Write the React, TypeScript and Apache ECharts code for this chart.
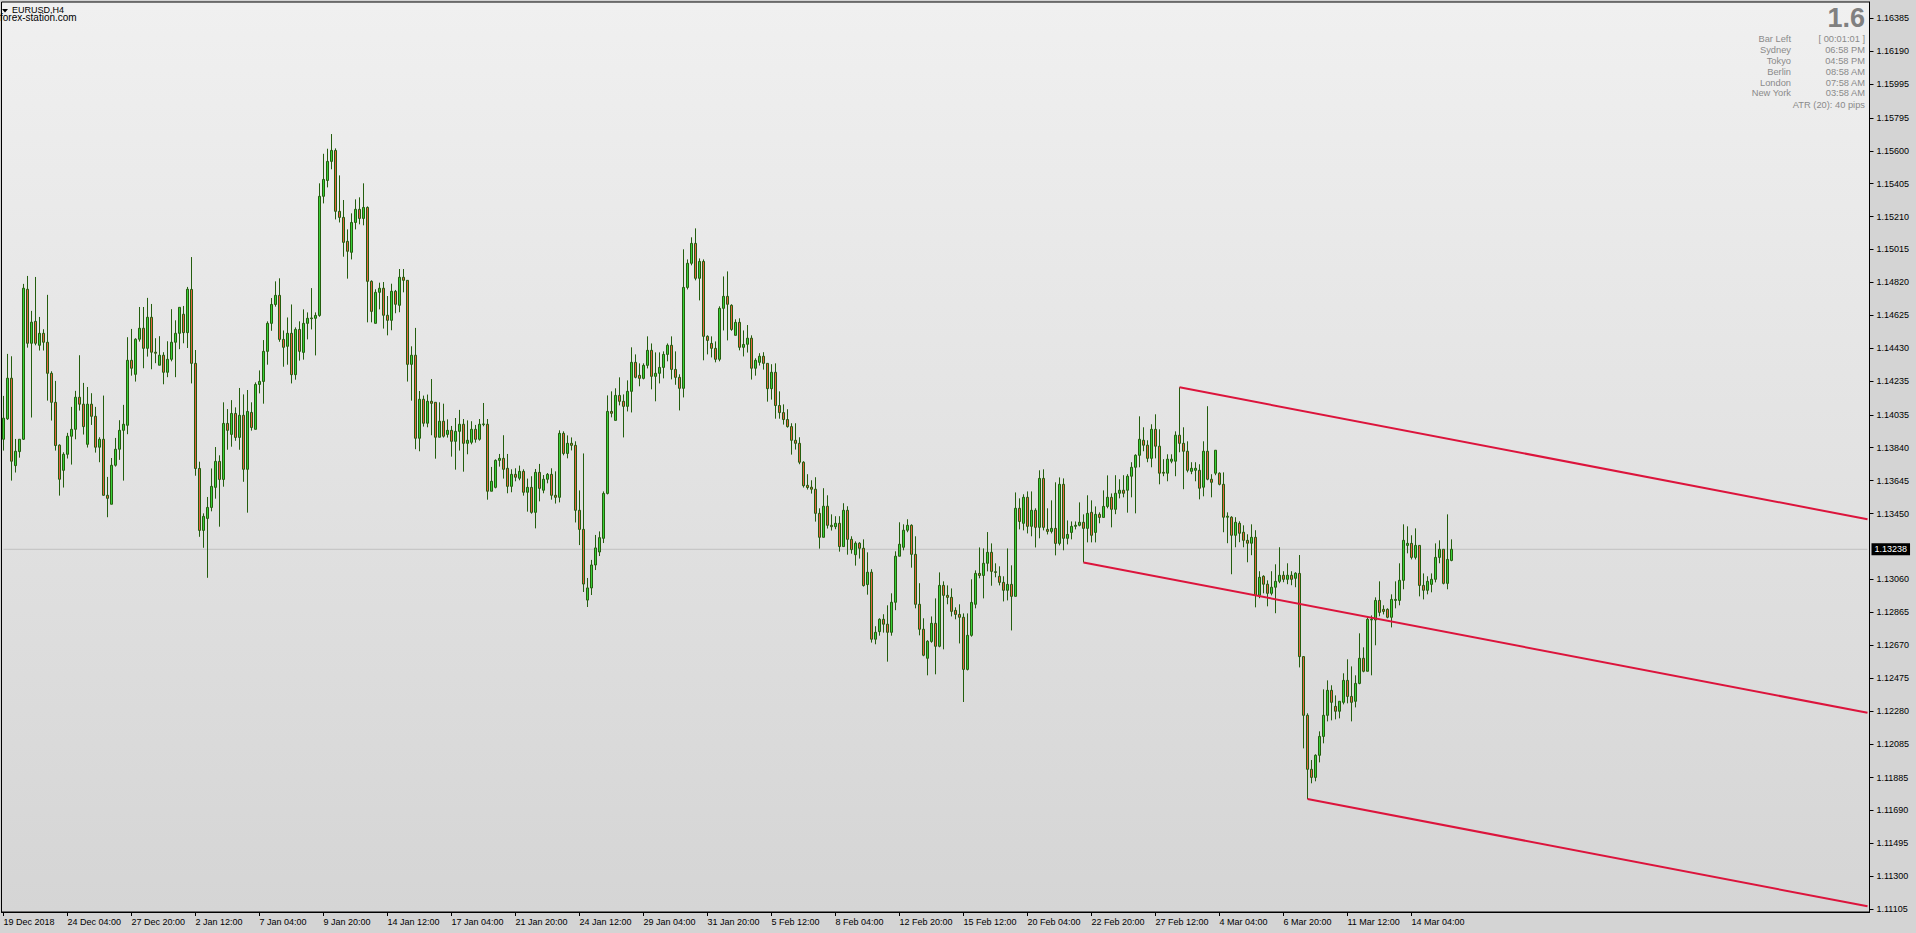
import React, { useEffect, useRef } from "react";
import * as echarts from "echarts";

// ---- x axis tick labels (one every 16 four-hour bars) ----
const xTickLabels = [
  "19 Dec 2018", "24 Dec 04:00", "27 Dec 20:00", "2 Jan 12:00", "7 Jan 04:00", "9 Jan 20:00",
  "14 Jan 12:00", "17 Jan 04:00", "21 Jan 20:00", "24 Jan 12:00", "29 Jan 04:00", "31 Jan 20:00",
  "5 Feb 12:00", "8 Feb 04:00", "12 Feb 20:00", "15 Feb 12:00", "20 Feb 04:00", "22 Feb 20:00",
  "27 Feb 12:00", "4 Mar 04:00", "6 Mar 20:00", "11 Mar 12:00", "14 Mar 04:00",
];
const BARS_PER_LABEL = 16;
const TOTAL_SLOTS = 467; // bars + empty space on the right

// ---- price axis tick labels ----
const priceTicks = [
  1.16385, 1.1619, 1.15995, 1.15795, 1.156, 1.15405, 1.1521, 1.15015, 1.1482, 1.14625, 1.1443,
  1.14235, 1.14035, 1.1384, 1.13645, 1.1345, 1.1306, 1.12865, 1.1267, 1.12475, 1.1228, 1.12085,
  1.11885, 1.1169, 1.11495, 1.113, 1.11105,
];
const yMin = 1.110883;
const yMax = 1.164816;

// ---- EURUSD H4 candles ----
const open = [
1.13890,1.14011,1.14252,1.13734,1.13817,1.13890,1.14779,1.14459,1.14589,1.14447,
1.14518,1.14465,1.14281,1.14109,1.13855,1.13706,1.13801,1.13908,1.13949,1.14139,
1.14098,1.13860,1.14098,1.14026,1.13843,1.13890,1.13558,1.13505,1.13736,1.13831,
1.13943,1.13973,1.14358,1.14275,1.14483,1.14548,1.14429,1.14613,1.14406,1.14329,
1.14388,1.14287,1.14364,1.14465,1.14518,1.14631,1.14522,1.14778,1.14340,1.13717,
1.13350,1.13421,1.13486,1.13605,1.13759,1.13652,1.13984,1.13919,1.14043,1.13901,
1.14032,1.13712,1.14049,1.13949,1.14215,1.14233,1.14411,1.14577,1.14689,1.14743,
1.14482,1.14441,1.14518,1.14273,1.14541,1.14405,1.14577,1.14605,1.14607,1.14624,
1.15330,1.15424,1.15537,1.15602,1.15241,1.15205,1.15063,1.14998,1.15175,1.15253,
1.15199,1.15264,1.14826,1.14577,1.14761,1.14785,1.14625,1.14595,1.14767,1.14684,
1.14850,1.14832,1.14334,1.14388,1.13896,1.14127,1.13985,1.14115,1.14109,1.13902,
1.13997,1.13919,1.13943,1.13878,1.13937,1.13979,1.13866,1.13872,1.13949,1.13890,
1.13977,1.13979,1.13582,1.13605,1.13765,1.13777,1.13718,1.13611,1.13682,1.13659,
1.13700,1.13576,1.13605,1.13457,1.13694,1.13588,1.13653,1.13682,1.13558,1.13546,
1.13925,1.13806,1.13866,1.13854,1.13469,1.13356,1.12937,1.13009,1.13145,1.13222,
1.13303,1.13569,1.14055,1.14002,1.14150,1.14115,1.14085,1.14174,1.14346,1.14269,
1.14251,1.14328,1.14417,1.14263,1.14281,1.14316,1.14393,1.14447,1.14304,1.14257,
1.14192,1.14790,1.14933,1.15051,1.14844,1.14944,1.14500,1.14458,1.14429,1.14364,
1.14666,1.14737,1.14684,1.14506,1.14583,1.14435,1.14453,1.14489,1.14311,1.14346,
1.14382,1.14340,1.14190,1.14287,1.14090,1.14048,1.14007,1.13965,1.13884,1.13866,
1.13754,1.13617,1.13606,1.13594,1.13451,1.13309,1.13493,1.13380,1.13372,1.13392,
1.13254,1.13469,1.13297,1.13206,1.13274,1.13244,1.13029,1.13102,1.12705,1.12750,
1.12823,1.12794,1.12746,1.12924,1.13197,1.13250,1.13351,1.13380,1.13208,1.12912,
1.12764,1.12592,1.12692,1.12799,1.12663,1.13024,1.12965,1.12953,1.12876,1.12852,
1.12835,1.12526,1.12728,1.12912,1.13095,1.13083,1.13155,1.13220,1.13105,1.13078,
1.13042,1.12995,1.13030,1.12959,1.13481,1.13392,1.13546,1.13374,1.13469,1.13368,
1.13658,1.13356,1.13344,1.13362,1.13273,1.13623,1.13303,1.13338,1.13374,1.13380,
1.13398,1.13362,1.13457,1.13338,1.13445,1.13427,1.13492,1.13546,1.13475,1.13570,
1.13588,1.13588,1.13671,1.13724,1.13795,1.13884,1.13855,1.13777,1.13949,1.13849,
1.13694,1.13689,1.13760,1.13760,1.13914,1.13866,1.13819,1.13700,1.13706,1.13706,
1.13606,1.13819,1.13653,1.13689,1.13689,1.13623,1.13428,1.13428,1.13321,1.13392,
1.13339,1.13291,1.13274,1.13309,1.12965,1.13078,1.13031,1.12977,1.13013,1.13048,
1.13084,1.13060,1.13084,1.13066,1.13095,1.12602,1.12254,1.11934,1.11886,1.12017,
1.12129,1.12254,1.12402,1.12307,1.12278,1.12331,1.12461,1.12366,1.12337,1.12443,
1.12592,1.12515,1.12819,1.12819,1.12935,1.12882,1.12882,1.12835,1.12935,1.12935,
1.13054,1.13261,1.13273,1.13190,1.13261,1.13024,1.12995,1.13030,1.13060,1.13190,
1.13238,1.13036,1.13172,
];
const high = [
1.14147,1.14396,1.14382,1.13892,1.13890,1.14811,1.14858,1.14651,1.14852,1.14615,
1.14542,1.14746,1.14293,1.14236,1.13860,1.13813,1.13928,1.14082,1.14177,1.14388,
1.14224,1.14200,1.14163,1.14082,1.13902,1.14149,1.13667,1.13779,1.13898,1.14003,
1.14094,1.14495,1.14544,1.14489,1.14674,1.14674,1.14728,1.14692,1.14489,1.14501,
1.14406,1.14471,1.14661,1.14595,1.14672,1.14680,1.14793,1.14970,1.14419,1.13757,
1.13451,1.13548,1.13717,1.13844,1.13795,1.14109,1.14069,1.14122,1.14079,1.14194,
1.14156,1.14182,1.14109,1.14227,1.14298,1.14478,1.14589,1.14727,1.14826,1.14844,
1.14535,1.14612,1.14689,1.14553,1.14589,1.14660,1.14642,1.14786,1.14642,1.15407,
1.15582,1.15612,1.15699,1.15614,1.15454,1.15308,1.15134,1.15229,1.15312,1.15324,
1.15407,1.15270,1.14832,1.14779,1.14818,1.14822,1.14739,1.14812,1.14775,1.14899,
1.14899,1.14832,1.14441,1.14550,1.14176,1.14149,1.14155,1.14247,1.14109,1.14109,
1.14101,1.14008,1.13969,1.14016,1.14064,1.14010,1.14002,1.13997,1.13975,1.14010,
1.14105,1.14010,1.13726,1.13771,1.13803,1.13914,1.13803,1.13712,1.13718,1.13734,
1.13712,1.13657,1.13671,1.13714,1.13744,1.13678,1.13690,1.13718,1.13700,1.13943,
1.13937,1.13913,1.13901,1.13878,1.13587,1.13806,1.13068,1.13175,1.13323,1.13344,
1.13581,1.14150,1.14174,1.14192,1.14257,1.14156,1.14239,1.14435,1.14393,1.14340,
1.14340,1.14500,1.14458,1.14405,1.14405,1.14411,1.14458,1.14500,1.14411,1.14275,
1.15016,1.14956,1.15087,1.15140,1.14962,1.14956,1.14506,1.14500,1.14470,1.14678,
1.14855,1.14885,1.14690,1.14601,1.14607,1.14535,1.14567,1.14506,1.14370,1.14400,
1.14406,1.14340,1.14335,1.14340,1.14174,1.14097,1.14068,1.13985,1.13985,1.13902,
1.13760,1.13683,1.13647,1.13665,1.13481,1.13600,1.13558,1.13445,1.13434,1.13434,
1.13511,1.13493,1.13315,1.13285,1.13280,1.13297,1.13220,1.13120,1.12782,1.12829,
1.12853,1.12906,1.12977,1.13226,1.13398,1.13386,1.13416,1.13386,1.13315,1.13037,
1.12829,1.12699,1.12840,1.12947,1.13101,1.13048,1.13024,1.13006,1.12894,1.12912,
1.12858,1.12858,1.13060,1.13113,1.13249,1.13243,1.13340,1.13273,1.13155,1.13137,
1.13078,1.13243,1.13143,1.13575,1.13540,1.13564,1.13581,1.13581,1.13481,1.13706,
1.13712,1.13481,1.13528,1.13635,1.13664,1.13658,1.13409,1.13403,1.13403,1.13516,
1.13445,1.13558,1.13528,1.13492,1.13457,1.13587,1.13676,1.13569,1.13677,1.13653,
1.13677,1.13683,1.13754,1.13801,1.14026,1.13961,1.13884,1.13979,1.14038,1.13949,
1.13772,1.13801,1.13801,1.13937,1.14198,1.13961,1.13878,1.13754,1.13754,1.13742,
1.13878,1.14086,1.13683,1.13825,1.13694,1.13694,1.13457,1.13434,1.13428,1.13404,
1.13380,1.13327,1.13386,1.13351,1.13108,1.13084,1.13054,1.13108,1.13149,1.13250,
1.13108,1.13155,1.13108,1.13102,1.13204,1.12602,1.12266,1.11989,1.12023,1.12159,
1.12408,1.12461,1.12432,1.12372,1.12337,1.12503,1.12586,1.12544,1.12491,1.12740,
1.12657,1.12835,1.12846,1.12953,1.13048,1.12906,1.12888,1.12971,1.13048,1.13155,
1.13386,1.13374,1.13321,1.13362,1.13261,1.13095,1.13078,1.13095,1.13273,1.13291,
1.13238,1.13445,1.13297,
];
const low = [
1.13823,1.14005,1.13645,1.13693,1.13781,1.13886,1.14433,1.14019,1.14447,1.14416,
1.14416,1.14119,1.14001,1.13823,1.13556,1.13604,1.13776,1.13740,1.13890,1.14060,
1.13918,1.13841,1.13975,1.13811,1.13754,1.13556,1.13428,1.13505,1.13728,1.13768,
1.13645,1.13920,1.14267,1.14232,1.14469,1.14311,1.14380,1.14305,1.14341,1.14329,
1.14216,1.14258,1.14352,1.14258,1.14424,1.14459,1.14431,1.14221,1.13674,1.13312,
1.13247,1.13069,1.13463,1.13538,1.13372,1.13609,1.13828,1.13846,1.13881,1.13828,
1.13638,1.13455,1.13941,1.13949,1.14162,1.14101,1.14332,1.14533,1.14676,1.14468,
1.14320,1.14332,1.14221,1.14243,1.14356,1.14362,1.14482,1.14541,1.14387,1.14616,
1.15288,1.15383,1.15490,1.15193,1.15175,1.14972,1.14842,1.14956,1.15134,1.15164,
1.15158,1.14583,1.14583,1.14577,1.14660,1.14546,1.14506,1.14536,1.14637,1.14643,
1.14761,1.14232,1.14119,1.13831,1.13819,1.13965,1.13961,1.13914,1.13775,1.13902,
1.13900,1.13900,1.13787,1.13710,1.13823,1.13698,1.13801,1.13860,1.13870,1.13882,
1.13967,1.13532,1.13582,1.13599,1.13728,1.13657,1.13570,1.13576,1.13641,1.13647,
1.13556,1.13461,1.13449,1.13362,1.13522,1.13570,1.13629,1.13532,1.13509,1.13516,
1.13795,1.13777,1.13824,1.13397,1.13263,1.12985,1.12896,1.12967,1.13115,1.13198,
1.13275,1.13563,1.14020,1.14002,1.14091,1.13901,1.14055,1.14049,1.14251,1.14204,
1.14245,1.14310,1.14186,1.14115,1.14221,1.14251,1.14352,1.14245,1.14213,1.14061,
1.14138,1.14778,1.14921,1.14832,1.14713,1.14358,1.14393,1.14375,1.14346,1.14352,
1.14535,1.14476,1.14533,1.14506,1.14417,1.14381,1.14404,1.14244,1.14267,1.14327,
1.14303,1.14113,1.14125,1.14012,1.14012,1.13977,1.13959,1.13799,1.13829,1.13742,
1.13604,1.13592,1.13568,1.13402,1.13242,1.13309,1.13361,1.13349,1.13357,1.13224,
1.13254,1.13206,1.13212,1.13141,1.13183,1.13017,1.12969,1.12685,1.12675,1.12726,
1.12744,1.12572,1.12726,1.12877,1.13197,1.13232,1.13339,1.13129,1.12888,1.12728,
1.12604,1.12491,1.12684,1.12497,1.12657,1.12645,1.12912,1.12840,1.12823,1.12680,
1.12333,1.12520,1.12720,1.12888,1.13066,1.12947,1.13107,1.13022,1.13072,1.13024,
1.12929,1.12935,1.12757,1.12959,1.13356,1.13350,1.13332,1.13315,1.13249,1.13303,
1.13350,1.13326,1.13332,1.13202,1.13261,1.13232,1.13267,1.13297,1.13356,1.13374,
1.13160,1.13279,1.13279,1.13279,1.13392,1.13427,1.13481,1.13368,1.13446,1.13540,
1.13546,1.13455,1.13546,1.13451,1.13724,1.13819,1.13754,1.13724,1.13777,1.13623,
1.13671,1.13641,1.13748,1.13671,1.13813,1.13594,1.13694,1.13683,1.13641,1.13534,
1.13552,1.13647,1.13546,1.13677,1.13617,1.13339,1.13274,1.13090,1.13250,1.13280,
1.13250,1.13161,1.13203,1.12894,1.12948,1.12977,1.12900,1.12965,1.12859,1.13037,
1.13043,1.13031,1.13025,1.13013,1.12538,1.12058,1.11758,1.11851,1.11863,1.11975,
1.12088,1.12218,1.12224,1.12230,1.12236,1.12319,1.12325,1.12218,1.12301,1.12438,
1.12509,1.12515,1.12491,1.12669,1.12841,1.12852,1.12829,1.12775,1.12888,1.12906,
1.13001,1.13214,1.13178,1.13178,1.12959,1.12941,1.12971,1.12983,1.13042,1.13155,
1.13030,1.13001,1.13167,
];
const close = [
1.14015,1.14252,1.13760,1.13819,1.13890,1.14785,1.14459,1.14584,1.14459,1.14518,
1.14465,1.14281,1.14109,1.13853,1.13653,1.13801,1.13908,1.13949,1.14139,1.14098,
1.13965,1.14098,1.14026,1.13843,1.13890,1.13558,1.13540,1.13736,1.13831,1.13943,
1.13979,1.14358,1.14311,1.14483,1.14548,1.14429,1.14613,1.14406,1.14400,1.14388,
1.14287,1.14364,1.14465,1.14518,1.14672,1.14522,1.14779,1.14340,1.13717,1.13350,
1.13433,1.13486,1.13611,1.13759,1.13652,1.13984,1.13943,1.14043,1.13901,1.14032,
1.13712,1.14055,1.13960,1.14215,1.14233,1.14411,1.14577,1.14689,1.14743,1.14482,
1.14435,1.14518,1.14273,1.14541,1.14411,1.14577,1.14607,1.14609,1.14624,1.15330,
1.15430,1.15537,1.15602,1.15241,1.15205,1.15057,1.15004,1.15175,1.15253,1.15199,
1.15264,1.14826,1.14648,1.14761,1.14785,1.14625,1.14595,1.14767,1.14690,1.14850,
1.14832,1.14334,1.14388,1.13896,1.14127,1.13985,1.14115,1.14103,1.13902,1.13997,
1.13908,1.13943,1.13878,1.13937,1.13979,1.13866,1.13884,1.13949,1.13890,1.13979,
1.13981,1.13582,1.13641,1.13765,1.13777,1.13712,1.13611,1.13682,1.13665,1.13700,
1.13576,1.13605,1.13457,1.13694,1.13599,1.13653,1.13682,1.13558,1.13546,1.13925,
1.13806,1.13866,1.13854,1.13469,1.13356,1.13032,1.13009,1.13145,1.13246,1.13307,
1.13569,1.14055,1.14044,1.14150,1.14115,1.14085,1.14174,1.14346,1.14257,1.14251,
1.14328,1.14417,1.14263,1.14281,1.14316,1.14393,1.14447,1.14304,1.14257,1.14192,
1.14790,1.14933,1.15051,1.14844,1.14944,1.14500,1.14476,1.14429,1.14364,1.14666,
1.14737,1.14690,1.14541,1.14583,1.14435,1.14452,1.14489,1.14311,1.14358,1.14382,
1.14340,1.14190,1.14287,1.14090,1.14048,1.14007,1.13965,1.13884,1.13866,1.13754,
1.13615,1.13604,1.13594,1.13451,1.13309,1.13493,1.13380,1.13372,1.13392,1.13254,
1.13469,1.13297,1.13236,1.13274,1.13244,1.13023,1.13102,1.12705,1.12746,1.12823,
1.12794,1.12746,1.12924,1.13197,1.13268,1.13351,1.13380,1.13208,1.12912,1.12764,
1.12610,1.12693,1.12799,1.12663,1.13024,1.12965,1.12953,1.12870,1.12852,1.12835,
1.12526,1.12728,1.12923,1.13095,1.13083,1.13155,1.13220,1.13107,1.13101,1.13042,
1.12995,1.13030,1.12959,1.13481,1.13403,1.13546,1.13374,1.13469,1.13368,1.13658,
1.13368,1.13344,1.13362,1.13273,1.13623,1.13303,1.13326,1.13374,1.13380,1.13398,
1.13362,1.13451,1.13321,1.13445,1.13427,1.13492,1.13546,1.13475,1.13570,1.13588,
1.13570,1.13671,1.13724,1.13795,1.13890,1.13855,1.13777,1.13949,1.13849,1.13689,
1.13689,1.13772,1.13772,1.13914,1.13866,1.13819,1.13706,1.13718,1.13718,1.13600,
1.13819,1.13653,1.13635,1.13825,1.13623,1.13428,1.13434,1.13321,1.13398,1.13333,
1.13291,1.13274,1.13309,1.12965,1.13072,1.13031,1.12977,1.13013,1.13048,1.13084,
1.13060,1.13084,1.13060,1.13096,1.12602,1.12254,1.11934,1.11886,1.12017,1.12129,
1.12254,1.12402,1.12331,1.12278,1.12337,1.12461,1.12366,1.12331,1.12443,1.12592,
1.12515,1.12823,1.12823,1.12935,1.12864,1.12870,1.12835,1.12941,1.12941,1.13054,
1.13291,1.13273,1.13190,1.13261,1.13024,1.12995,1.13048,1.13060,1.13190,1.13238,
1.13036,1.13178,1.13238,
];

// ---- current bid ----
const bidPrice = 1.13238;

// ---- equidistant channel: [bar index, price] at start and at right edge ----
const channelUpper = [[294, 1.14198], [466, 1.13416]];
const channelMiddle = [[270, 1.1316], [466, 1.12269]];
const channelLower = [[326, 1.11758], [466, 1.11122]];

// ---- info panel ----
const atrValue = "1.6";
const infoLabels = ["Bar Left", "Sydney", "Tokyo", "Berlin", "London", "New York"];
const infoValues = ["[ 00:01:01 ]", "06:58 PM", "04:58 PM", "08:58 AM", "07:58 AM", "03:58 AM"];
const atrLine = "ATR (20): 40 pips";

const FONT = "'Liberation Sans', Arial, sans-serif";

export default function App() {
  const ref = useRef<HTMLDivElement>(null);

  useEffect(() => {
    document.body.style.margin = "0";
    document.body.style.overflow = "hidden";
    if (!ref.current) return;
    const chart = echarts.init(ref.current, undefined, { renderer: "svg" });

    const slots = Array.from({ length: TOTAL_SLOTS }, (_, i) => String(i));
    const candleData = open.map((o, i) => [o, close[i], low[i], high[i]]);
    const showTick = (i: number) =>
      i % BARS_PER_LABEL === 0 && i / BARS_PER_LABEL < xTickLabels.length;

    const infoColor = "#8a8a8a";
    const graphics: any[] = [
      {
        type: "polygon",
        shape: { points: [[2, 9], [8, 9], [5, 12.5]] },
        style: { fill: "#000" },
        silent: true,
      },
      {
        type: "text",
        x: 12,
        y: 10.3,
        style: { text: "EURUSD,H4", fill: "#000", fontSize: 9, fontFamily: FONT, verticalAlign: "middle" },
        silent: true,
      },
      {
        type: "text",
        x: 0,
        y: 17.5,
        style: { text: "forex-station.com", fill: "#000", fontSize: 10, fontFamily: FONT, verticalAlign: "middle" },
        silent: true,
      },
      {
        type: "text",
        x: 1865,
        y: 18,
        style: {
          text: atrValue, fill: "#808080", fontSize: 27, fontWeight: "bold", fontFamily: FONT,
          align: "right", verticalAlign: "middle",
        },
        silent: true,
      },
    ];
    infoLabels.forEach((lab, k) => {
      const y = 39.3 + k * 10.8;
      graphics.push({
        type: "text", x: 1791, y, silent: true,
        style: { text: lab, fill: infoColor, fontSize: 9.3, fontFamily: FONT, align: "right", verticalAlign: "middle" },
      });
      graphics.push({
        type: "text", x: 1865, y, silent: true,
        style: { text: infoValues[k], fill: infoColor, fontSize: 9.3, fontFamily: FONT, align: "right", verticalAlign: "middle" },
      });
    });
    graphics.push({
      type: "text", x: 1865, y: 105, silent: true,
      style: { text: atrLine, fill: infoColor, fontSize: 9.3, fontFamily: FONT, align: "right", verticalAlign: "middle" },
    });

    const channelSeries = [channelUpper, channelMiddle, channelLower].map((d) => ({
      type: "line",
      data: d,
      symbol: "none",
      silent: true,
      z: 5,
      lineStyle: { color: "#dc143c", width: 2 },
    }));

    chart.setOption({
      animation: false,
      backgroundColor: "#d4d4d4",
      grid: {
        left: 1.5,
        top: 2,
        width: 1868,
        height: 910,
        show: true,
        borderColor: "#000",
        borderWidth: 1,
        backgroundColor: new echarts.graphic.LinearGradient(0, 0, 0, 1, [
          { offset: 0, color: "#f0f0f0" },
          { offset: 1, color: "#d5d5d5" },
        ]),
      },
      xAxis: {
        type: "category",
        data: slots,
        boundaryGap: true,
        axisLine: { show: true, lineStyle: { color: "#000", width: 1 } },
        axisTick: {
          show: true,
          alignWithLabel: true,
          interval: (i: number) => showTick(i),
          length: 4,
          lineStyle: { color: "#000" },
        },
        axisLabel: {
          interval: (i: number) => showTick(i),
          formatter: (_v: string, i: number) => xTickLabels[i / BARS_PER_LABEL] ?? "",
          align: "left",
          color: "#000",
          fontSize: 9,
          fontFamily: FONT,
          margin: 5,
        },
        splitLine: { show: false },
      },
      yAxis: {
        type: "value",
        position: "right",
        min: yMin,
        max: yMax,
        splitLine: { show: false },
        axisLine: { show: true, lineStyle: { color: "#000" } },
        axisTick: { show: true, customValues: priceTicks, length: 4, lineStyle: { color: "#000" } },
        axisLabel: {
          customValues: priceTicks,
          formatter: (v: number) => v.toFixed(5),
          color: "#000",
          fontSize: 9,
          fontFamily: FONT,
          margin: 7,
        },
      },
      graphic: graphics,
      series: [
        {
          type: "line",
          name: "bid",
          data: [[0, bidPrice], [TOTAL_SLOTS - 1, bidPrice]],
          symbol: "none",
          silent: true,
          z: 1,
          lineStyle: { color: "#c0c0c0", width: 1 },
          endLabel: {
            show: true,
            distance: 4,
            formatter: () => bidPrice.toFixed(5),
            backgroundColor: "#000",
            color: "#fff",
            fontSize: 9,
            fontFamily: FONT,
            padding: [2, 3, 1, 3],
          },
        },
        {
          type: "candlestick",
          data: candleData,
          barWidth: 3,
          silent: true,
          z: 3,
          itemStyle: {
            color: "#38d038",
            color0: "#e4623e",
            borderColor: "#245e0e",
            borderColor0: "#245e0e",
            borderWidth: 1,
          },
        },
        ...channelSeries,
      ],
    });

    return () => chart.dispose();
  }, []);

  return <div ref={ref} style={{ width: 1916, height: 933 }} />;
}
